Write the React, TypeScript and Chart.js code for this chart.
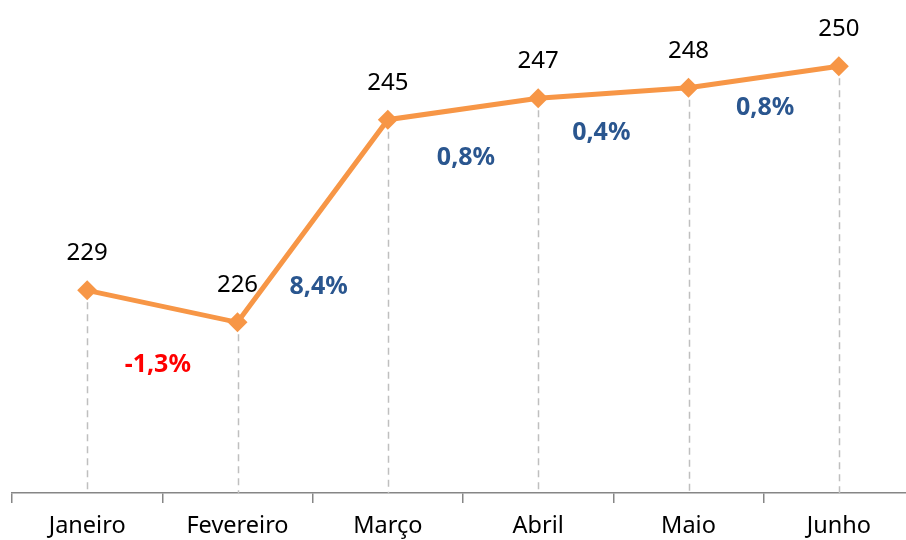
import React, { useEffect, useRef } from "react";
import { Chart, registerables } from "chart.js";

Chart.register(...registerables);

const categories = ["Janeiro", "Fevereiro", "Março", "Abril", "Maio", "Junho"];
const values = [229, 226, 245, 247, 248, 250];
const changeLabels = ["-1,3%", "8,4%", "0,8%", "0,4%", "0,8%"];
// anchor of each change label: fractional category index and value-axis value
const changeLabelIndex = [0.47, 1.54, 2.52, 3.42, 4.51];
const changeLabelValue = [222.0, 229.3, 241.4, 243.75, 246.1];

const FONT = "'Noto Sans', 'Open Sans', sans-serif";

const dropLines = {
  id: "dropLines",
  beforeDatasetsDraw(chart: any) {
    const { ctx, chartArea } = chart;
    const meta = chart.getDatasetMeta(0);
    ctx.save();
    ctx.setLineDash([7, 5]);
    ctx.strokeStyle = "#BFBFBF";
    ctx.lineWidth = 1.5;
    meta.data.forEach((pt: any) => {
      ctx.beginPath();
      ctx.moveTo(Math.round(pt.x) + 0.5, pt.y);
      ctx.lineTo(Math.round(pt.x) + 0.5, chartArea.bottom);
      ctx.stroke();
    });
    ctx.restore();
  },
};

const labelsPlugin = {
  id: "labelsPlugin",
  afterDatasetsDraw(chart: any) {
    const { ctx } = chart;
    const meta = chart.getDatasetMeta(0);
    const xs = chart.scales.x;
    const ys = chart.scales.y;
    ctx.save();
    ctx.textAlign = "center";
    ctx.textBaseline = "middle";
    ctx.fillStyle = "#000";
    ctx.font = `24px ${FONT}`;
    meta.data.forEach((pt: any, i: number) => {
      ctx.fillText(String(values[i]), pt.x, pt.y - 37);
    });
    ctx.font = `bold 25px ${FONT}`;
    changeLabels.forEach((t, i) => {
      ctx.fillStyle = t.startsWith("-") ? "#FF0000" : "#2A568F";
      ctx.fillText(t, xs.getPixelForValue(changeLabelIndex[i]), ys.getPixelForValue(changeLabelValue[i]));
    });
    ctx.restore();
  },
};

export default function App() {
  const ref = useRef<HTMLCanvasElement>(null);
  useEffect(() => {
    if (!ref.current) return;
    const chart = new Chart(ref.current, {
      type: "line",
      data: {
        labels: categories,
        datasets: [
          {
            data: values,
            borderColor: "#F79646",
            backgroundColor: "#F79646",
            borderWidth: 5,
            pointStyle: "rectRot",
            pointRadius: 10,
            pointBackgroundColor: "#F79646",
            pointBorderColor: "#F79646",
            pointBorderWidth: 0,
            tension: 0,
            clip: false as any,
          },
        ],
      },
      options: {
        animation: false,
        responsive: false,
        layout: { padding: { left: 12, right: 2, top: 13, bottom: 0 } },
        plugins: { legend: { display: false }, tooltip: { enabled: false } },
        scales: {
          x: {
            offset: true,
            grid: {
              offset: true,
              drawOnChartArea: false,
              drawTicks: true,
              tickLength: 10,
              color: (c: any) => (c.type === "tick" ? "#868686" : "rgba(0,0,0,0)"),
              lineWidth: 1.5,
            },
            border: { color: "#868686", width: 1.5 },
            ticks: { color: "#000", font: { size: 23.5, family: FONT }, padding: 9, maxRotation: 0 },
            afterFit: (s: any) => {
              s.height = 47;
            },
          },
          y: { display: false, min: 210, max: 255 },
        },
      },
      plugins: [dropLines, labelsPlugin],
    });
    return () => chart.destroy();
  }, []);
  return (
    <div style={{ position: "absolute", left: 0, top: 0, width: 906, height: 540, overflow: "hidden", background: "#fff" }}>
      <canvas ref={ref} width={924} height={540} style={{ display: "block" }} />
    </div>
  );
}
